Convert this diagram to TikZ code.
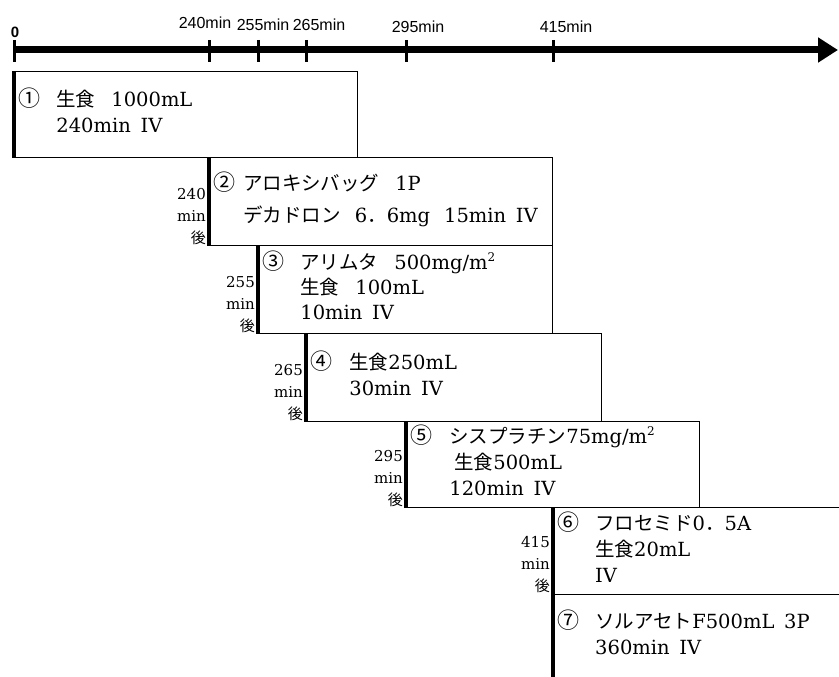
\documentclass[tikz,border=0pt]{standalone}
\usepackage{fontspec}
\setmainfont{DejaVu Serif}
\newfontfamily\jp{Noto Sans CJK JP}
\newfontfamily\axisfont{Liberation Sans}
\usetikzlibrary{arrows.meta}

\begin{document}
\begin{tikzpicture}[x=1pt, y=-1pt,
    box/.style={anchor=north west, inner xsep=4pt, inner ysep=0pt, align=left,
      font=\fontsize{19.5}{26}\selectfont},
    framed/.style={box, draw, line width=0.8pt},
    bar/.style={line width=3.5pt},
    timelbl/.style={anchor=south east, inner sep=0pt, align=right,
      font=\fontsize{15}{22}\selectfont},
    ticklbl/.style={inner sep=0pt, font=\axisfont\fontsize{16}{16}\selectfont}]

  \useasboundingbox (0,0) rectangle (839,677);

  % time axis
  \coordinate (t0) at (14,50);
  \coordinate (tend) at (838,50);
  \draw[line width=7pt, -{Triangle[length=20pt, width=24pt]}] (t0) -- (tend);
  \foreach \x in {14,209,258,306,406,553}
    \draw[line width=3pt] (\x,40) -- (\x,62);
  \node[ticklbl, font=\axisfont\bfseries\fontsize{15}{15}\selectfont] (l0) at (15,32) {0};
  \foreach \x/\y/\t in {205/23/240, 263/25/255, 319/25/265, 418/27/295, 566/27/415}
    \node[ticklbl] (l\t) at (\x,\y) {\t min};

  % infusion steps
  \node[framed, text width=335pt, minimum height=86pt] (b1) at (14,71) {%
    \begin{tabular}{@{}p{38pt}@{}l@{}}
      {\jp\fontsize{22}{26}\selectfont ①} & {\jp 生食}\hspace{16pt}1000mL\\
      & 240min\enspace IV
    \end{tabular}};
  \node[framed, text width=335pt, minimum height=88pt] (b2) at (209,157) {%
    \begin{tabular}{@{}p{30pt}@{}l@{}}
      {\jp\fontsize{22}{26}\selectfont ②} & {\jp アロキシバッグ}\hspace{16pt}1P\\[6pt]
      & {\jp デカドロン}\hspace{14pt}6{\jp ．}6mg\hspace{14pt}15min\enspace IV
    \end{tabular}};
  \node[framed, text width=286pt, minimum height=88pt] (b3) at (258,245) {%
    \begin{tabular}{@{}p{38pt}@{}l@{}}
      {\jp\fontsize{22}{26}\selectfont ③} & {\jp アリムタ}\hspace{16pt}500mg/m\raisebox{8pt}{\fontsize{12}{12}\selectfont 2}\\[-1pt]
      & {\jp 生食}\hspace{16pt}100mL\\[-1pt]
      & 10min\enspace IV
    \end{tabular}};
  \node[framed, text width=287pt, minimum height=88pt] (b4) at (306,333) {%
    \begin{tabular}{@{}p{39pt}@{}l@{}}
      {\jp\fontsize{22}{26}\selectfont ④} & {\jp 生食}250mL\\
      & 30min\enspace IV
    \end{tabular}};
  \node[framed, text width=285pt, minimum height=86pt] (b5) at (406,421) {%
    \begin{tabular}{@{}p{39pt}@{}l@{}}
      {\jp\fontsize{22}{26}\selectfont ⑤} & {\jp シスプラチン}75mg/m\raisebox{8pt}{\fontsize{12}{12}\selectfont 2}\\
      & \hspace*{5pt}{\jp 生食}500mL\\
      & 120min\enspace IV
    \end{tabular}};
  \node[box, text width=278pt, minimum height=87pt] (b6) at (553,507) {%
    \begin{tabular}{@{}p{38pt}@{}l@{}}
      {\jp\fontsize{22}{26}\selectfont ⑥} & {\jp フロセミド}0{\jp ．}5A\\
      & {\jp 生食}20mL\\
      & IV
    \end{tabular}};
  \node[box, text width=278pt, minimum height=83pt] (b7) at (553,594) {%
    \begin{tabular}{@{}p{38pt}@{}l@{}}
      {\jp\fontsize{22}{26}\selectfont ⑦} & {\jp ソルアセト}F500mL\enspace 3P\\
      & 360min\enspace IV
    \end{tabular}};
  \draw[line width=0.8pt] (b6.north west) -- (b6.north east);
  \draw[line width=0.8pt] (b7.north west) -- (b7.north east);

  % start bars
  \foreach \i in {1,...,5}
    \draw[bar] (b\i.north west) -- (b\i.south west);
  \draw[bar] (b6.north west) -- (b7.south west);

  % start times
  \foreach \i/\t in {2/240, 3/255, 4/265, 5/295, 6/415}
    \node[timelbl] (a\i) at ([xshift=-3pt, yshift=1pt]b\i.south west) {\t\\min\\{\jp 後}};

\end{tikzpicture}
\end{document}
